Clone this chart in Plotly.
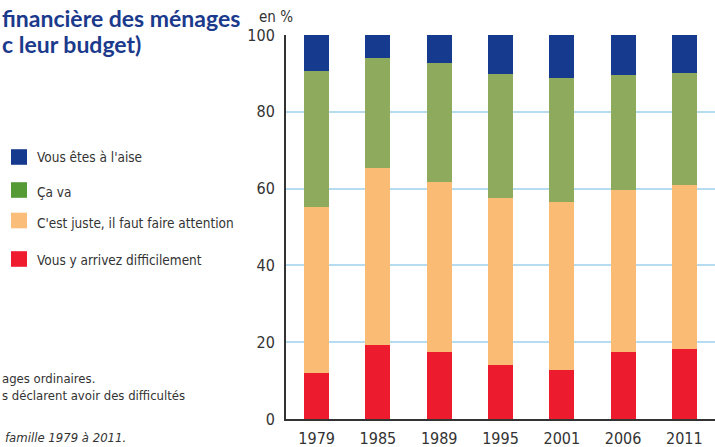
import plotly.graph_objects as go

years = ["1979", "1985", "1989", "1995", "2001", "2006", "2011"]
difficile = [12.1, 19.4, 17.4, 14.1, 12.8, 17.4, 18.2]
juste = [43.1, 46.0, 44.3, 43.5, 43.7, 42.2, 42.7]
ca_va = [35.4, 28.6, 31.0, 32.2, 32.3, 30.0, 29.2]
aise = [9.4, 6.0, 7.3, 10.2, 11.2, 10.4, 9.9]

series = [
    ("Vous y arrivez difficilement", difficile, "#ec1c2e"),
    ("C'est juste, il faut faire attention", juste, "#fabb74"),
    ("Ça va", ca_va, "#8eab5d"),
    ("Vous êtes à l'aise", aise, "#163b8e"),
]
legend_colors = ["#ee1c2e", "#fbbd7a", "#559a35", "#163b8e"]

NARROW = "Liberation Sans Narrow, DejaVu Sans Condensed, Arial Narrow, sans-serif"

fig = go.Figure()
for name, vals, col in series:
    fig.add_trace(go.Bar(x=years, y=vals, name=name, marker_color=col,
                         marker_line_width=0, width=0.41, showlegend=False))

L, R, T, B, W, H = 286, 0, 35, 28, 715, 447
pw, ph = W - L - R, H - T - B

def px(x):
    return (x - L) / pw

def py(y):
    return (H - B - y) / ph

shapes = []
annotations = []
# legend (custom, top to bottom)
leg_items = [("Vous êtes à l'aise", legend_colors[3], 157, 157),
             ("Ça va", legend_colors[2], 190, 192),
             ("C'est juste, il faut faire attention", legend_colors[1], 220.5, 223),
             ("Vous y arrivez difficilement", legend_colors[0], 259, 260)]
for text, col, sy, ty in leg_items:
    shapes.append(dict(type="rect", xref="paper", yref="paper",
                       x0=px(11), x1=px(27), y0=py(sy + 7.8), y1=py(sy - 7.8),
                       fillcolor=col, line_width=0))
    annotations.append(dict(text=text, xref="paper", yref="paper", x=px(35), y=py(ty),
                            xanchor="left", yanchor="middle", showarrow=False,
                            font=dict(family=NARROW, size=13.5, color="#333333")))

# title (visible part of a cropped title)
annotations.append(dict(text="<b>financière des ménages</b>", xref="paper", yref="paper",
                        x=px(0), y=py(18), xanchor="left", yanchor="middle", showarrow=False,
                        font=dict(family="Lato, sans-serif", size=23, color="#1b3a8c")))
annotations.append(dict(text="<b>c leur budget)</b>", xref="paper", yref="paper",
                        x=px(0), y=py(44), xanchor="left", yanchor="middle", showarrow=False,
                        font=dict(family="Lato, sans-serif", size=23, color="#1b3a8c")))
# unit
annotations.append(dict(text="en %", xref="paper", yref="paper", x=px(257), y=py(17),
                        xanchor="left", yanchor="middle", showarrow=False,
                        font=dict(family=NARROW, size=15, color="#333333")))
# notes (visible part)
annotations.append(dict(text="ages ordinaires.", xref="paper", yref="paper",
                        x=px(0), y=py(378), xanchor="left", yanchor="middle", showarrow=False,
                        font=dict(family=NARROW, size=13, color="#333333")))
annotations.append(dict(text="s déclarent avoir des difficultés",
                        xref="paper", yref="paper",
                        x=px(0), y=py(395), xanchor="left", yanchor="middle", showarrow=False,
                        font=dict(family=NARROW, size=13, color="#333333")))
annotations.append(dict(text="<i>famille 1979 à 2011.</i>",
                        xref="paper", yref="paper",
                        x=px(3), y=py(437), xanchor="left", yanchor="middle", showarrow=False,
                        font=dict(family=NARROW, size=13, color="#333333")))

fig.update_layout(
    width=W, height=H, barmode="stack",
    margin=dict(l=L, r=R, t=T, b=B, autoexpand=False),
    paper_bgcolor="white", plot_bgcolor="white",
    shapes=shapes, annotations=annotations,
    xaxis=dict(type="category", range=[-0.5, 6.5], showgrid=False, automargin=False,
               showline=True, linecolor="#333333", linewidth=2,
               ticks="", tickfont=dict(family=NARROW, size=16, color="#333333"),
               ticklabelstandoff=4),
    yaxis=dict(range=[0, 100], tickvals=[0, 20, 40, 60, 80, 100], automargin=False,
               showgrid=True, gridcolor="#b5dcf1", gridwidth=1.5,
               zeroline=False, showline=True, linecolor="#333333", linewidth=2,
               ticks="", tickfont=dict(family=NARROW, size=16, color="#333333"),
               ticklabelstandoff=6),
    font=dict(family=NARROW),
)
fig.write_html("out.html", config={"displayModeBar": False},
               post_script="document.body.style.margin='0';document.body.style.overflow='hidden';")
